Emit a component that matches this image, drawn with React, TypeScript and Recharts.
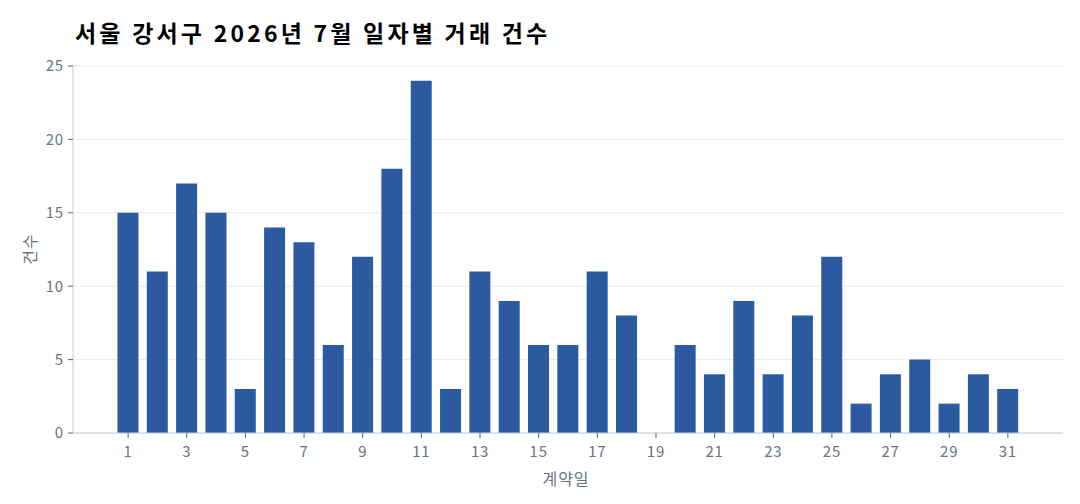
import React from 'react';
import { BarChart, Bar, XAxis, YAxis, CartesianGrid } from 'recharts';

const days = [
    1, 2, 3, 4, 5, 6, 7, 8, 9, 10, 11, 12, 13, 14, 15, 16,
    17, 18, 19, 20, 21, 22, 23, 24, 25, 26, 27, 28, 29, 30, 31,
];
const counts = [
    15, 11, 17, 15, 3, 14, 13, 6, 12, 18, 24, 3, 11, 9, 6, 6,
    11, 8, 0, 6, 4, 9, 4, 8, 12, 2, 4, 5, 2, 4, 3,
];
const xTicks = [1, 3, 5, 7, 9, 11, 13, 15, 17, 19, 21, 23, 25, 27, 29, 31];
const yTicks = [0, 5, 10, 15, 20, 25];

const FONT = '"Noto Sans CJK KR", "Noto Sans", sans-serif';
const BAR_COLOR = '#2b5aa0';
const TICK_COLOR = '#6b7280';
const AXIS_COLOR = '#c9ced6';

const data = days.map((d, i) => ({ day: d, count: counts[i] }));

const YLabel = () => (
    <text
        x={29}
        y={249}
        transform="rotate(-90 29 249)"
        textAnchor="middle"
        dominantBaseline="central"
        fill={TICK_COLOR}
        fontSize={16}
        fontFamily={FONT}
        letterSpacing={1}
    >
        건수
    </text>
);

const XLabel = () => (
    <text
        x={566}
        y={478}
        textAnchor="middle"
        dominantBaseline="central"
        fill={TICK_COLOR}
        fontSize={16}
        fontFamily={FONT}
        letterSpacing={1}
    >
        계약일
    </text>
);

const tickStyle = { fill: TICK_COLOR, fontSize: 15, fontFamily: FONT, letterSpacing: 0.8 };

export default function App() {
    return (
        <div style={{ position: 'absolute', left: 0, top: 0, width: 1080, height: 504, background: '#fff' }}>
            <div
                style={{
                    position: 'absolute',
                    left: 75,
                    top: 13,
                    fontFamily: FONT,
                    fontWeight: 700,
                    fontSize: 23,
                    letterSpacing: 3.2,
                    color: '#000',
                    lineHeight: '38px',
                    whiteSpace: 'nowrap',
                }}
            >
                서울 강서구 2026년 7월 일자별 거래 건수
            </div>
            <BarChart
                width={1080}
                height={504}
                data={data}
                margin={{ top: 66, right: 17, bottom: 41, left: 13 }}
            >
                <CartesianGrid vertical={false} stroke="#e8eaee" />
                <XAxis
                    dataKey="day"
                    type="number"
                    domain={[-0.88, 32.88]}
                    ticks={xTicks}
                    interval={0}
                    height={30}
                    stroke={AXIS_COLOR}
                    tickLine={{ stroke: '#5b6170' }}
                    tickSize={5}
                    tickMargin={8}
                    tick={tickStyle}
                    label={<XLabel />}
                />
                <YAxis
                    domain={[0, 25]}
                    ticks={yTicks}
                    width={60}
                    stroke={AXIS_COLOR}
                    tickLine={{ stroke: '#5b6170' }}
                    tickSize={5}
                    tickMargin={4}
                    tick={tickStyle}
                    label={<YLabel />}
                />
                <Bar dataKey="count" fill={BAR_COLOR} barSize={21} isAnimationActive={false} />
            </BarChart>
        </div>
    );
}
